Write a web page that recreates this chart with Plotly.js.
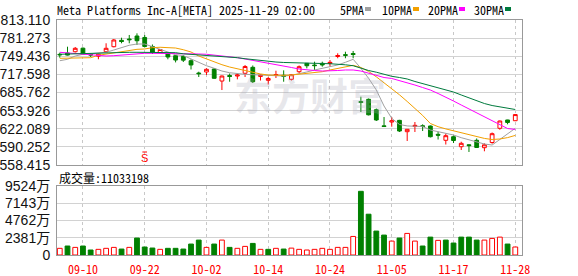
<!DOCTYPE html>
<html><head><meta charset="utf-8">
<script src="https://cdn.plot.ly/plotly-3.0.1.min.js"></script>
<style>html,body{margin:0;padding:0;background:#fff;}#chart{width:578px;height:276px;}</style>
</head><body><div id="chart"></div>
<script>
const title = 'Meta Platforms Inc-A[META] 2025-11-29 02:00';
const maNames = ['5PMA','10PMA','20PMA','30PMA'];
const maColors = ['#a0a0a0','#f2a000','#ff00ff','#007a3d'];
const volLabelPrefix = '成交量:';

const dates = ['09-05','09-08','09-09','09-10','09-11','09-12','09-15','09-16','09-17','09-18','09-19','09-22','09-23','09-24','09-25','09-26','09-29','09-30',
'10-01','10-02','10-03','10-06','10-07','10-08','10-09','10-10','10-13','10-14','10-15','10-16','10-17','10-20','10-21','10-22','10-23','10-24','10-27','10-28','10-29','10-30','10-31',
'11-03','11-04','11-05','11-06','11-07','11-10','11-11','11-12','11-13','11-14','11-17','11-18','11-19','11-20','11-21','11-24','11-25','11-26','11-28'];

const open  = [752.8,755.1,757.4,763.6,752.5,749.5,757.4,766.2,777.4,779.7,
               785.0,782.4,766.6,756.0,754.6,750.4,749.0,741.6,720.0,721.8,
               727.0,705.9,715.6,714.7,719.5,730.0,713.9,707.2,715.6,716.0,
               708.9,722.3,737.0,734.0,737.0,736.7,749.0,752.2,754.2,670.0,
               673.8,655.5,627.2,633.9,636.8,616.9,626.0,627.4,626.9,612.3,
               601.8,608.1,590.5,593.9,601.8,588.8,597.9,622.9,637.5,636.2];
const high  = [755.7,766.2,765.7,764.8,755.1,754.0,772.2,779.7,782.0,786.8,
               789.7,786.8,770.1,762.2,755.7,751.6,751.6,744.1,722.3,728.3,
               728.8,715.6,719.1,718.3,734.0,733.2,717.7,713.0,724.0,724.7,
               718.2,733.2,737.6,739.9,739.9,742.8,754.6,757.4,758.7,678.4,
               675.2,657.6,642.7,642.7,637.7,621.6,633.9,629.9,627.8,616.9,
               613.8,610.2,599.3,594.9,605.0,596.5,615.5,636.5,637.8,648.0];
const low   = [746.9,750.8,756.0,751.6,748.1,744.1,756.9,765.1,772.2,772.2,
               769.2,764.8,753.4,755.1,744.1,738.6,739.3,726.2,713.0,716.5,
               709.8,690.1,704.7,708.9,713.0,702.4,706.8,699.8,711.2,704.7,
               706.8,720.0,728.2,725.3,731.1,731.1,745.9,745.9,745.9,651.5,
               645.5,635.7,625.7,625.7,616.4,600.6,616.4,618.1,606.8,603.2,
               594.4,597.0,584.8,581.3,588.3,582.5,595.8,620.3,629.9,635.7];
const close = [752.0,751.5,763.4,752.9,751.6,753.0,763.4,778.0,775.3,778.5,
               776.7,766.6,756.0,761.3,748.1,742.8,742.6,734.1,718.8,726.5,
               710.7,714.7,713.9,716.5,731.4,704.7,716.5,710.4,717.4,714.2,
               717.0,731.1,732.8,733.0,734.1,738.8,750.7,751.1,752.5,668.2,
               646.6,637.5,626.0,636.2,618.1,621.1,628.1,626.0,608.1,610.8,
               609.9,601.4,596.5,592.5,589.2,593.9,613.4,635.7,633.1,647.0];
const prevClose = 748.6;
const volume = [9200000,12400000,10500000,12400000,6900000,7800000,9200000,10500000,8200000,10500000,
                23400000,11000000,9600000,7800000,9200000,9200000,8200000,15100000,20600000,10500000,
                15100000,20600000,10500000,9200000,11900000,16000000,7800000,7800000,9200000,8200000,
                9500000,7800000,6900000,7800000,9200000,7800000,10500000,10500000,25600000,87900000,
                56300000,33000000,27500000,19200000,23400000,29800000,19200000,12400000,24700000,20200000,
                20600000,16500000,24700000,24700000,20600000,20600000,22900000,24700000,15100000,11033198];

const ma5  = [741.6,744.1,749.9,752.9,753.9,755.1,756.4,760.4,765.2,768.7,
              770.9,770.9,766.2,761.6,756.9,752.2,750.7,744.6,738.1,732.8,
              728.3,723.5,720.5,718.8,717.7,717.0,716.5,716.0,715.3,714.7,
              716.0,718.3,721.8,725.3,728.3,731.1,734.1,738.8,744.1,728.3,
              710.7,690.2,662.0,640.4,629.6,627.0,627.0,626.0,619.9,616.9,
              614.1,611.1,606.4,602.3,598.8,595.3,593.5,603.6,614.1,622.9];
const ma10 = [745.8,745.8,745.8,745.8,746.9,751.1,753.4,755.1,757.4,760.4,
              761.6,762.2,764.5,765.2,765.2,763.9,760.9,756.9,749.9,744.6,
              739.3,734.6,730.5,727.6,724.0,720.5,718.3,716.5,716.0,716.0,
              716.5,717.7,719.5,720.5,722.3,725.3,727.6,730.5,733.5,729.7,
              722.8,713.3,702.8,693.1,681.7,670.0,658.0,645.5,631.3,625.7,
              621.8,618.5,615.5,610.9,607.9,605.1,603.2,604.1,606.5,610.4];
const ma20 = [756.4,755.1,753.9,752.9,751.6,750.4,749.9,750.4,751.6,752.9,
              753.9,754.6,754.6,754.6,754.6,754.6,754.6,753.9,753.4,752.9,
              751.6,749.9,748.7,746.9,744.6,742.3,739.9,737.6,735.3,732.8,
              729.7,727.0,725.3,724.4,723.5,723.5,724.4,725.3,725.3,723.5,
              720.0,716.5,712.1,710.4,706.8,703.3,698.9,694.5,690.1,684.0,
              677.9,670.8,663.8,656.8,649.7,642.7,635.7,628.7,622.5,620.9];
const ma30 = [752.9,753.4,753.9,754.6,754.8,755.1,755.5,756.0,756.4,756.4,
              756.4,756.4,756.4,756.4,756.4,755.7,753.7,752.9,751.6,750.4,
              749.3,748.5,747.6,746.9,745.1,743.4,742.0,740.6,739.3,738.5,
              737.9,737.6,737.0,737.0,736.7,736.3,735.8,734.4,732.8,727.9,
              724.4,721.4,717.2,714.2,712.1,709.5,705.1,701.6,698.1,694.5,
              691.0,686.6,681.4,676.2,670.8,666.4,662.9,660.3,657.7,655.9];

const yTicks = [558.415,590.252,622.089,653.926,685.762,717.598,749.436,781.273,813.110];
const volTicks = [0,23810000,47620000,71430000,95240000];
const volTickText = ['0','2381万','4762万','7143万','9524万'];
const xTickLabels = ['09-10','09-22','10-02','10-14','10-24','11-05','11-17','11-28'];
const splitMarkDate = '09-22';
const watermark = '东方财富';

const RED = '#ff0000', GREEN = '#008000';
const L = 57, R = 522, T = 20, B = 255;
const px = x => (x - L) / (R - L);
const py = y => (B - y) / (B - T);
const mono = 'Noto Sans Mono CJK SC, Liberation Mono, monospace';

const volUp = close.map((c, i) => c >= (i === 0 ? prevClose : close[i - 1]));

const traces = [];
traces.push({
  type: 'bar', x: dates, y: volume, xaxis: 'x', yaxis: 'y2', width: 0.62,
  marker: { color: volUp.map(u => u ? '#ffffff' : GREEN), line: { color: volUp.map(u => u ? RED : GREEN), width: 1 } },
  hoverinfo: 'skip'
});
[ma5, ma10, ma20, ma30].forEach((m, k) => traces.push({
  type: 'scatter', mode: 'lines', x: dates, y: m, xaxis: 'x2', yaxis: 'y', name: maNames[k],
  line: { color: maColors[k], width: 1 }, hoverinfo: 'skip'
}));
traces.push({
  type: 'candlestick', x: dates, open: open, high: high, low: low, close: close, xaxis: 'x2', yaxis: 'y',
  increasing: { line: { color: RED, width: 1 }, fillcolor: '#ffffff' },
  decreasing: { line: { color: GREEN, width: 1 }, fillcolor: GREEN },
  whiskerwidth: 0, hoverinfo: 'skip'
});

const xBase = {
  type: 'category', range: [-0.36, 59.87], tickmode: 'array', tickvals: xTickLabels, ticktext: xTickLabels,
  showgrid: true, gridcolor: '#c8c8c8', griddash: '3px,3px', gridwidth: 1,
  showline: true, linecolor: '#999', linewidth: 1, mirror: true, ticks: '', zeroline: false,
  rangeslider: { visible: false }, fixedrange: true
};
const layout = {
  width: 578, height: 276, margin: { l: 57, r: 56, t: 20, b: 21, pad: 0 },
  paper_bgcolor: '#fff', plot_bgcolor: '#fff', showlegend: false, dragmode: false,
  font: { family: 'Liberation Sans, Noto Sans CJK SC, sans-serif', size: 14, color: '#111' },
  xaxis: Object.assign({}, xBase, { anchor: 'y2', tickfont: { family: mono, size: 12, color: RED }, ticklabelstandoff: 4 }),
  xaxis2: Object.assign({}, xBase, { anchor: 'y', showticklabels: false }),
  yaxis: { domain: [py(165), 1], range: [yTicks[0], yTicks[yTicks.length - 1]], tickmode: 'array', tickvals: yTicks,
           ticktext: yTicks.map(v => v.toFixed(3)), showgrid: true, gridcolor: '#d2d2d2', gridwidth: 1,
           showline: true, linecolor: '#999', mirror: true, ticks: '', zeroline: false, fixedrange: true, ticklabelstandoff: 3 },
  yaxis2: { domain: [0, py(186)], range: [0, volTicks[volTicks.length - 1]], tickmode: 'array', tickvals: volTicks,
            ticktext: volTickText, showgrid: true, gridcolor: '#d2d2d2', gridwidth: 1,
            showline: true, linecolor: '#999', mirror: true, ticks: '', zeroline: false, fixedrange: true, ticklabelstandoff: 3 },
  annotations: [
    { text: title, xref: 'paper', yref: 'paper', x: px(55), y: py(10), xanchor: 'left', yanchor: 'middle', showarrow: false,
      font: { family: mono, size: 12, color: '#000' } },
    { text: volLabelPrefix + volume[volume.length - 1], xref: 'paper', yref: 'paper', x: px(57), y: py(177), xanchor: 'left', yanchor: 'middle', showarrow: false,
      font: { family: mono, size: 12, color: '#000' } },
    { text: 'S', xref: 'x2', yref: 'paper', x: splitMarkDate, y: py(158), xanchor: 'center', yanchor: 'middle', showarrow: false,
      font: { family: 'Liberation Sans', size: 11, color: RED } },
    { text: '<b>' + watermark + '</b>', xref: 'paper', yref: 'paper', x: px(310), y: py(93), xanchor: 'center', yanchor: 'middle', showarrow: false,
      font: { family: 'Noto Sans CJK SC', size: 38, color: 'rgba(170,170,185,0.28)' } }
  ],
  shapes: []
};
const legX = [338, 380, 426, 472], swX = [365, 413, 459, 505];
maNames.forEach((n, k) => {
  layout.annotations.push({ text: n, xref: 'paper', yref: 'paper', x: px(legX[k]), y: py(10), xanchor: 'left', yanchor: 'middle',
    showarrow: false, font: { family: mono, size: 12, color: '#000' } });
  layout.shapes.push({ type: 'rect', xref: 'paper', yref: 'paper', x0: px(swX[k]), x1: px(swX[k] + 6), y0: py(11), y1: py(7),
    fillcolor: maColors[k], line: { width: 0 } });
});
layout.shapes.push({ type: 'line', xref: 'x2', yref: 'paper', x0: 10.7, x1: 11.3, y0: py(152), y1: py(152), line: { color: RED, width: 1 } });

Plotly.newPlot('chart', traces, layout, { staticPlot: true, displayModeBar: false });
</script></body></html>
